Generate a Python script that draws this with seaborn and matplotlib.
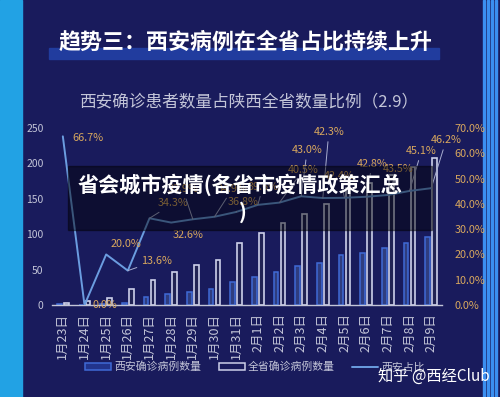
import numpy as np
import pandas as pd
import matplotlib.pyplot as plt
import matplotlib.patches as mpatches
from matplotlib.lines import Line2D
import seaborn as sns

# 数据
dates = ['1月23日', '1月24日', '1月25日', '1月26日', '1月27日', '1月28日', '1月29日',
         '1月30日', '1月31日', '2月1日', '2月2日', '2月3日', '2月4日', '2月5日',
         '2月6日', '2月7日', '2月8日', '2月9日']
xian_cases = [2, 0, 2, 3, 12, 15, 19, 22, 32, 40, 47, 55, 60, 70, 74, 80, 88, 96]
prov_cases = [3, 5, 10, 22, 35, 46, 56, 63, 87, 101, 116, 128, 142, 165, 173, 184, 195, 208]
xian_ratio = [66.7, 0.0, 20.0, 13.6, 34.3, 32.6, 33.9, 34.9, 36.8, 39.6, 40.5, 43.0,
              42.3, 42.4, 42.8, 43.5, 45.1, 46.2]
left_ticks = [0, 50, 100, 150, 200, 250]
right_ticks = [0, 10, 20, 30, 40, 50, 60, 70]

# 标签偏移(像素)和是否画引线
label_offsets = [(25, -2), (20, 0), (20, 10), (29, 10), (24, 15), (17, -12), (-10, 30),
                 (18, 28), (7, 10), (5, 18), (24, 33), (6, 46), (6, 66), (-5, 22),
                 (6, 33), (10, 26), (12, 40), (15, 48)]
no_leader = {0, 1, 2, 5}

BG = '#191b5c'
BLUE = '#3f6ad6'
WHITE = '#cdd0ea'
LINE = '#6b9de0'
ORANGE = '#d9a85e'
GREY = '#c3c5d8'

sns.set_style('white')
plt.rcParams['font.family'] = ['Noto Sans CJK SC', 'DejaVu Sans']

df = pd.DataFrame({
    '日期': dates * 2,
    '数量': xian_cases + prov_cases,
    '类别': ['西安'] * len(dates) + ['全省'] * len(dates),
})

fig = plt.figure(figsize=(5, 3.97), dpi=100, facecolor=BG)

# 左右两侧的浅蓝装饰条
fig.add_artist(mpatches.Rectangle((0, 0), 22 / 500, 1, transform=fig.transFigure,
                                  color='#22a2e4', zorder=-2))
for k in range(4):
    fig.add_artist(mpatches.Rectangle((0.966 + k * 0.008, 0), 0.004, 1, transform=fig.transFigure,
                                      color='#3b8ff0', zorder=-2))

ax = fig.add_axes([0.104, 0.2317, 0.78, 0.4459])
ax.set_facecolor('none')

sns.barplot(data=df, x='日期', y='数量', hue='类别', hue_order=['西安', '全省'],
            palette={'西安': '#22348c', '全省': BG}, width=0.65, gap=0.3,
            legend=False, ax=ax)
for bar in ax.containers[0]:
    bar.set_edgecolor(BLUE)
    bar.set_linewidth(1.1)
for bar in ax.containers[1]:
    bar.set_edgecolor(WHITE)
    bar.set_linewidth(1.2)

ax.set_ylim(0, 250)
ax.set_xlim(-0.5, len(dates) - 0.5)
ax.set_yticks(left_ticks)
ax.set_xlabel('')
ax.set_ylabel('')
for s in ['top', 'right', 'left']:
    ax.spines[s].set_visible(False)
ax.spines['bottom'].set_color(GREY)
ax.spines['bottom'].set_linewidth(1.0)
ax.set_xticks(np.arange(len(dates) + 1) - 0.5, minor=True)
ax.tick_params(axis='x', which='minor', length=3, color=GREY, direction='out')
ax.tick_params(axis='x', which='major', length=0, pad=6, labelsize=9,
               labelcolor=GREY, labelrotation=90)
ax.tick_params(axis='y', length=0, pad=6, labelsize=7.5, labelcolor=GREY)

# 西安占比折线
ax2 = ax.twinx()
ax2.set_facecolor('none')
xpos = np.arange(len(dates))
sns.lineplot(x=xpos, y=xian_ratio, color=LINE, linewidth=1.4, ax=ax2)
ax2.set_ylim(0, 70)
ax2.set_yticks(right_ticks)
ax2.set_yticklabels([f'{v:.1f}%' for v in right_ticks])
ax2.tick_params(axis='y', length=0, pad=9, labelsize=7.8, labelcolor=ORANGE)
for s in ax2.spines.values():
    s.set_visible(False)

for i, (r, off) in enumerate(zip(xian_ratio, label_offsets)):
    arrow = None if i in no_leader else dict(arrowstyle='-', color='#a9aed0', lw=0.7,
                                             shrinkA=1, shrinkB=0)
    ax2.annotate(f'{r:.1f}%', xy=(i, r), xytext=off, textcoords='offset pixels',
                 ha='center', va='center', fontsize=7.8, color=ORANGE, arrowprops=arrow)

# 标题
fig.add_artist(mpatches.Rectangle((49 / 500, 1 - 59 / 397), 390 / 500, 11 / 397,
                                  transform=fig.transFigure, color='#213c9e', zorder=1))
fig.text(0.492, 1 - 42 / 397, '趋势三：西安病例在全省占比持续上升', ha='center', va='center',
         fontsize=15.8, fontweight='bold', color='white', zorder=2)
fig.text(0.497, 1 - 103 / 397, '西安确诊患者数量占陕西全省数量比例（2.9）', ha='center',
         va='center', fontsize=12, color=GREY)

# 图例
handles = [mpatches.Patch(facecolor='#22348c', edgecolor=BLUE, linewidth=1.1),
           mpatches.Patch(facecolor=BG, edgecolor=WHITE, linewidth=1.1),
           Line2D([0], [0], color=LINE, linewidth=1.4)]
leg = fig.legend(handles, ['西安确诊病例数量', '全省确诊病例数量', '西安占比'], ncol=3,
                 loc='center', bbox_to_anchor=(0.51, 1 - 367 / 397), frameon=False,
                 fontsize=7.8, handlelength=2.4, handleheight=0.6, columnspacing=1.6,
                 handletextpad=0.3)
for t in leg.get_texts():
    t.set_color(GREY)

# 覆盖在图上的标题条
fig.add_artist(mpatches.Rectangle((68 / 500, 1 - 230 / 397), 364 / 500, 64 / 397,
                                  transform=fig.transFigure, color='black', alpha=0.45,
                                  zorder=5))
fig.text(78 / 500, 1 - 185 / 397, '省会城市疫情(各省市疫情政策汇总', ha='left', va='center',
         fontsize=15.2, fontweight='bold', color='white', zorder=6)
fig.text(243 / 500, 1 - 212 / 397, ')', ha='center', va='center',
         fontsize=15.2, fontweight='bold', color='white', zorder=6)

# 水印
fig.text(378 / 500, 1 - 376 / 397, '知乎 @西经Club', ha='left', va='center',
         fontsize=11, color='white', zorder=6)

plt.savefig('out.png', dpi=100, facecolor=BG)
